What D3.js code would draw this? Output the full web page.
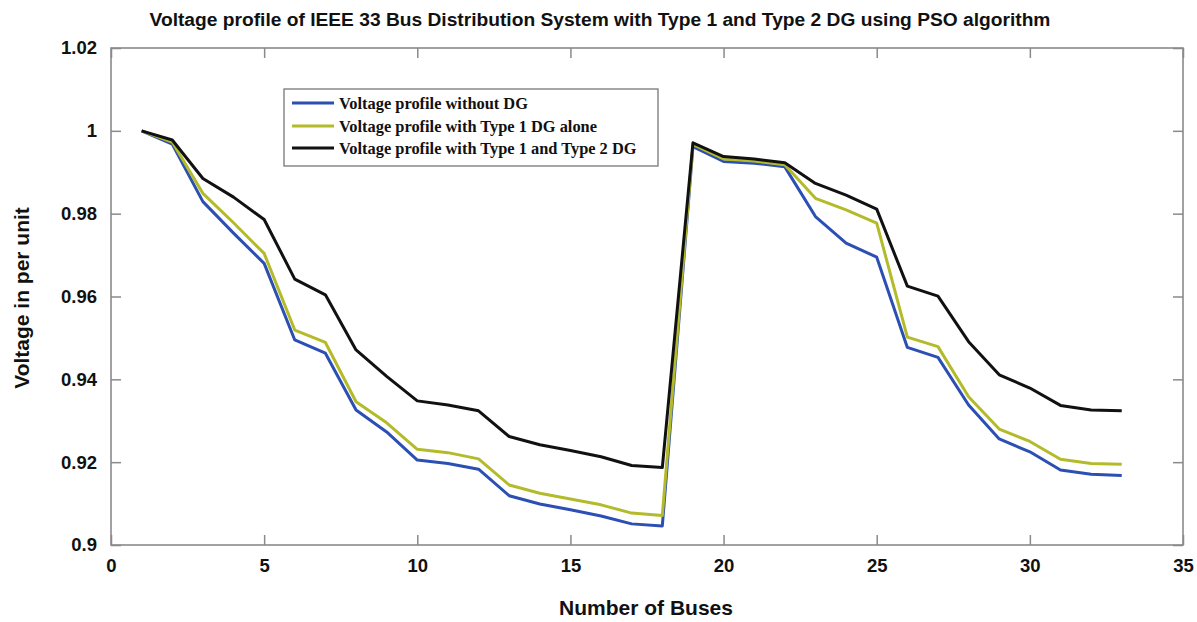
<!DOCTYPE html>
<html>
<head>
<meta charset="utf-8">
<script src="https://cdn.jsdelivr.net/npm/d3@7"></script>
<style>
  html, body { margin: 0; padding: 0; background: #fff; }
  svg { display: block; }
</style>
</head>
<body>
<svg id="chart" width="1197" height="622"></svg>
<script>
// ---- data ----
const buses = d3.range(1, 34);
const vWithoutDG = [1.0000, 0.9968, 0.9829, 0.9753, 0.9680, 0.9495, 0.9463, 0.9326, 0.9273, 0.9205,
  0.9197, 0.9183, 0.9119, 0.9099, 0.9085, 0.9070, 0.9051, 0.9046, 0.9962, 0.9926,
  0.9922, 0.9913, 0.9793, 0.9729, 0.9695, 0.9477, 0.9453, 0.9338, 0.9256, 0.9225,
  0.9181, 0.9171, 0.9168];
const vType1 = [1.0000, 0.9973, 0.9849, 0.9778, 0.9704, 0.9519, 0.9489, 0.9346, 0.9295, 0.9231,
  0.9223, 0.9208, 0.9145, 0.9125, 0.9111, 0.9097, 0.9077, 0.9071, 0.9967, 0.9932,
  0.9927, 0.9918, 0.9837, 0.9809, 0.9777, 0.9502, 0.9479, 0.9358, 0.9280, 0.9250,
  0.9207, 0.9197, 0.9195];
const vType12 = [1.0000, 0.9978, 0.9885, 0.9840, 0.9786, 0.9642, 0.9604, 0.9471, 0.9407, 0.9348,
  0.9338, 0.9324, 0.9262, 0.9242, 0.9228, 0.9213, 0.9192, 0.9187, 0.9971, 0.9938,
  0.9932, 0.9923, 0.9873, 0.9845, 0.9811, 0.9625, 0.9601, 0.9491, 0.9411, 0.9379,
  0.9337, 0.9326, 0.9324];
const xTicks = [0, 5, 10, 15, 20, 25, 30, 35];
const yTicks = [0.9, 0.92, 0.94, 0.96, 0.98, 1.0, 1.02];
const yTickLabels = ["0.9", "0.92", "0.94", "0.96", "0.98", "1", "1.02"];
const seriesNames = ["Voltage profile without DG", "Voltage profile with Type 1 DG alone", "Voltage profile with Type 1 and Type 2 DG"];
const seriesColors = ["#2b4fb3", "#b3bb2b", "#111111"];
const titleText = "Voltage profile of IEEE 33 Bus Distribution System with Type 1 and Type 2 DG using PSO algorithm";
const xLabel = "Number of Buses";
const yLabel = "Voltage in per unit";

// ---- layout ----
const svg = d3.select("#chart");
const L = 111, R = 1183, T = 48, B = 545;
const x = d3.scaleLinear().domain([0, 35]).range([L, R]);
const y = d3.scaleLinear().domain([0.9, 1.02]).range([B, T]);
const frameColor = "#8a8a8a";
const tickLen = 10;
const sans = "Liberation Sans, Arial, sans-serif";

// title
svg.append("text").attr("x", 600).attr("y", 26).attr("text-anchor", "middle")
  .attr("font-family", sans).attr("font-weight", "bold")
  .attr("font-size", 19.2).attr("fill", "#111").text(titleText);

// axes (inward ticks on all four sides)
const axB = d3.axisBottom(x).tickValues(xTicks).tickSize(-tickLen).tickPadding(14).tickFormat(d3.format("d"));
const axT = d3.axisTop(x).tickValues(xTicks).tickSize(-tickLen).tickFormat("");
const axLft = d3.axisLeft(y).tickValues(yTicks).tickSize(-tickLen).tickPadding(14)
  .tickFormat((d, i) => yTickLabels[i]);
const axRt = d3.axisRight(y).tickValues(yTicks).tickSize(-tickLen).tickFormat("");

function styleAxis(g) {
  g.select(".domain").remove();
  g.selectAll(".tick line").attr("stroke", frameColor).attr("stroke-width", 1.5);
  g.selectAll(".tick text").attr("font-family", sans)
    .attr("font-weight", "bold").attr("font-size", 18.5).attr("fill", "#111");
}
svg.append("g").attr("transform", `translate(0,${B})`).call(axB).call(styleAxis);
svg.append("g").attr("transform", `translate(0,${T})`).call(axT).call(styleAxis);
svg.append("g").attr("transform", `translate(${L},0)`).call(axLft).call(styleAxis);
svg.append("g").attr("transform", `translate(${R},0)`).call(axRt).call(styleAxis);

// frame
svg.append("rect").attr("x", L).attr("y", T).attr("width", R - L).attr("height", B - T)
  .attr("fill", "none").attr("stroke", frameColor).attr("stroke-width", 1.6);

// axis labels
svg.append("text").attr("x", 646).attr("y", 615).attr("text-anchor", "middle")
  .attr("font-family", sans).attr("font-weight", "bold")
  .attr("font-size", 21).attr("fill", "#111").text(xLabel);
svg.append("text").attr("transform", "translate(29,298) rotate(-90)").attr("text-anchor", "middle")
  .attr("font-family", sans).attr("font-weight", "bold")
  .attr("font-size", 21).attr("fill", "#111").text(yLabel);

// lines
const allSeries = [vWithoutDG, vType1, vType12];
const line = d3.line().x((d, i) => x(buses[i])).y(d => y(d));
allSeries.forEach((s, k) => {
  svg.append("path").datum(s).attr("d", line).attr("fill", "none")
    .attr("stroke", seriesColors[k]).attr("stroke-width", 3)
    .attr("stroke-linejoin", "round");
});

// legend
const lg = svg.append("g");
lg.append("rect").attr("x", 284).attr("y", 89).attr("width", 374).attr("height", 77)
  .attr("fill", "#fff").attr("stroke", "#777").attr("stroke-width", 1.3);
const rowsY = [103, 126, 148];
seriesNames.forEach((name, k) => {
  lg.append("line").attr("x1", 292).attr("x2", 334).attr("y1", rowsY[k]).attr("y2", rowsY[k])
    .attr("stroke", seriesColors[k]).attr("stroke-width", 3);
  lg.append("text").attr("x", 339).attr("y", rowsY[k]).attr("dy", "0.35em")
    .attr("font-family", "Liberation Serif, Times New Roman, serif").attr("font-weight", "bold")
    .attr("font-size", 16.4).attr("fill", "#111").text(name);
});
</script>
</body>
</html>
